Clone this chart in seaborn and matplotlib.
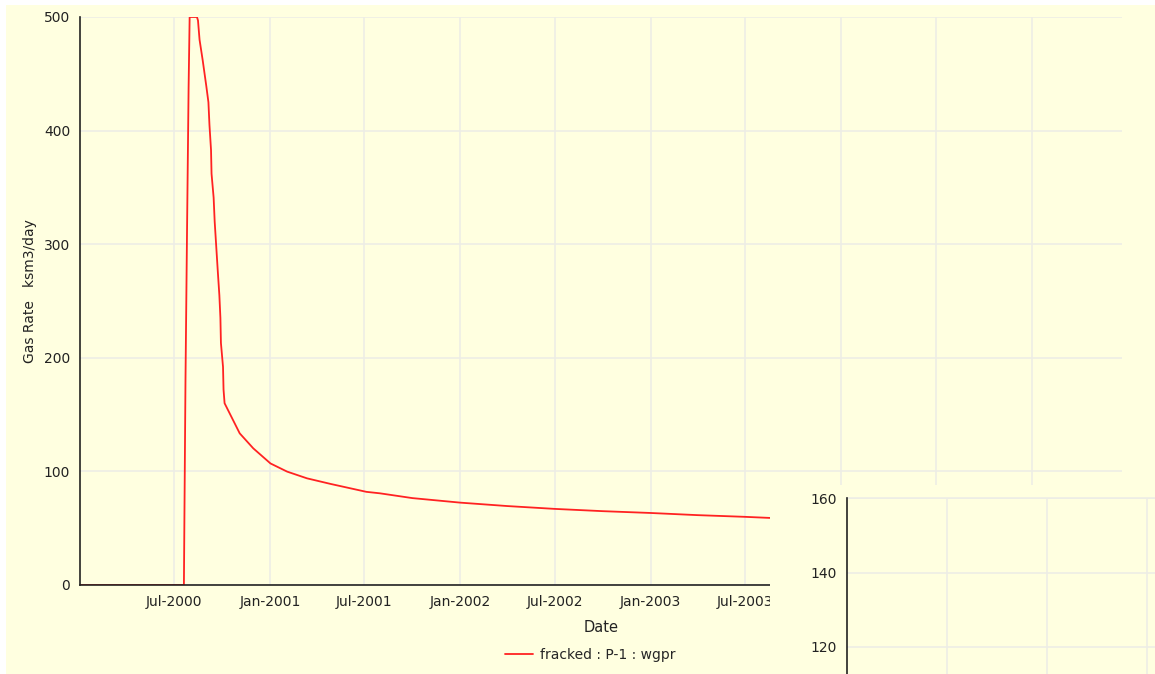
import matplotlib
matplotlib.use("Agg")
import matplotlib.pyplot as plt
import matplotlib.dates as mdates
from matplotlib.patches import Rectangle
import pandas as pd
import seaborn as sns

# ---- data ----
dates = ["2000-01-03", "2000-07-20", "2000-07-21", "2000-07-23", "2000-07-26",
         "2000-07-29", "2000-07-31", "2000-08-14", "2000-08-16", "2000-08-19",
         "2000-08-22", "2000-08-25", "2000-09-01", "2000-09-05", "2000-09-07",
         "2000-09-10", "2000-09-11", "2000-09-15", "2000-09-17", "2000-09-20",
         "2000-09-23", "2000-09-26", "2000-09-28", "2000-09-29", "2000-10-03",
         "2000-10-04", "2000-10-06", "2000-11-04", "2000-11-30", "2001-01-02",
         "2001-02-03", "2001-03-13", "2001-04-27", "2001-07-05", "2001-07-31",
         "2001-10-01", "2002-01-01", "2002-04-01", "2002-07-01", "2002-10-01",
         "2003-01-01", "2003-04-01", "2003-07-01", "2003-08-20", "2003-10-01"]
gas_rate = [0, 0, 61, 179, 312,
            438, 500, 500, 497, 480,
            471, 462, 439, 425, 405,
            383, 362, 341, 320, 298,
            276, 255, 235, 213, 192,
            172, 160, 133.5, 120.3, 107,
            99.8, 93.9, 89, 82, 80.7,
            76.5, 72.5, 69.5, 67, 65,
            63.4, 61.5, 60, 59, 58.5]
series_label = "fracked : P-1 : wgpr"
inset_yticks = [120, 140, 160]

BEIGE = "#FFFFE0"
GRID = "#EDEDE6"
W, H = 1155, 674

sns.set_style("white")
plt.rcParams["font.family"] = ["DejaVu Sans"]

df = pd.DataFrame({"Date": pd.to_datetime(dates), "Rate": gas_rate})

fig = plt.figure(figsize=(W / 100, H / 100), dpi=100, facecolor="white")
fig.patches.append(Rectangle((6 / W, 0), 1 - 6 / W, 1 - 5 / H,
                             transform=fig.transFigure, facecolor=BEIGE,
                             edgecolor="none", zorder=-10))


def fx(px):
    return px / W


def fy(py):
    return 1 - py / H


# ---- main axes ----
ax = fig.add_axes([fx(80), fy(585), fx(1122) - fx(80), fy(17) - fy(585)], zorder=0)
ax.set_facecolor(BEIGE)
sns.lineplot(data=df, x="Date", y="Rate", ax=ax, color="#FF2222", lw=1.3,
             estimator=None, sort=False, label=series_label, legend=False)

jul00 = mdates.date2num(pd.Timestamp("2000-07-01"))
ppd = (745 - 174) / 1095.0
ax.set_xlim(jul00 - (174 - 80) / ppd, jul00 + (1122 - 174) / ppd)
ax.set_ylim(0, 500)
ax.xaxis.set_major_locator(mdates.MonthLocator(bymonth=[1, 7]))
ax.xaxis.set_major_formatter(mdates.DateFormatter("%b-%Y"))
ax.set_yticks([0, 100, 200, 300, 400, 500])
ax.grid(True, color=GRID, lw=1.2)
for s in ["top", "right"]:
    ax.spines[s].set_visible(False)
for s in ["left", "bottom"]:
    ax.spines[s].set_color("#222222")
    ax.spines[s].set_linewidth(1.2)
ax.tick_params(axis="both", direction="out", length=4, width=1, color="#222222",
               labelsize=10, labelcolor="#222222", pad=3)
ax.tick_params(axis="y", length=5, pad=2)
ax.set_xlabel("Date", fontsize=10.5, color="#222222", labelpad=8)
ax.set_ylabel("Gas Rate   ksm3/day", fontsize=10, color="#222222")
ax.yaxis.set_label_coords((37 - 80) / 1042, (585 - 291) / 568)

handles, labels = ax.get_legend_handles_labels()
fig.legend(handles, labels, loc="center", bbox_to_anchor=(fx(590), fy(655)),
           frameon=False, fontsize=10, handlelength=2.0, handletextpad=0.5)

# ---- overlapping panel (lower right) ----
fig.patches.append(Rectangle((fx(770), 0), 1 - fx(770), fy(485),
                             transform=fig.transFigure, facecolor=BEIGE,
                             edgecolor="none", zorder=1))

px_per20 = (647 - 498) / 2.0
bottom_px = 498 + px_per20 * 3  # value 100
ax2 = fig.add_axes([fx(847), fy(bottom_px), fx(1200) - fx(847), fy(498) - fy(bottom_px)],
                   zorder=2)
ax2.set_facecolor(BEIGE)
ax2.set_ylim(100, 160)
ax2.set_xlim(0, 3.53)
ax2.set_yticks(inset_yticks)
ax2.set_xticks([1, 2, 3])
ax2.set_xticklabels([])
ax2.grid(True, color=GRID, lw=1.2)
for s in ["top", "right", "bottom"]:
    ax2.spines[s].set_visible(False)
ax2.spines["left"].set_color("#222222")
ax2.spines["left"].set_linewidth(1.2)
ax2.tick_params(axis="y", direction="out", length=5, width=1, color="#222222",
                labelsize=10, labelcolor="#222222", pad=2)
ax2.tick_params(axis="x", length=0)
ax2.axhline(160, color=GRID, lw=1.2, clip_on=False)

fig.savefig("out.png", dpi=100, facecolor=fig.get_facecolor())
